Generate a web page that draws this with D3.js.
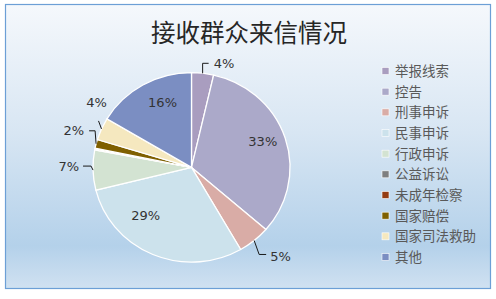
<!DOCTYPE html>
<html>
<head>
<meta charset="utf-8">
<script src="https://cdn.jsdelivr.net/npm/d3@7"></script>
<style>
  body { margin: 0; background: #fff; }
  svg text { font-family: "DejaVu Sans", sans-serif; }
  .title { font-family: "Noto Sans CJK SC", sans-serif; font-size: 24.5px; fill: #262626; }
  .legend text { font-family: "Noto Sans CJK SC", sans-serif; font-size: 13.5px; fill: #595959; }
  .pct { font-size: 13px; fill: #333; }
</style>
</head>
<body>
<div id="chart"></div>
<script>
// 接收群众来信情况 (share of letters, %)
var categories = ['举报线索', '控告', '刑事申诉', '民事申诉', '行政申诉', '公益诉讼', '未成年检察', '国家赔偿', '国家司法救助', '其他'];
var values = [3.6, 32.7, 5.3, 29.4, 6.8, 0.1, 0.2, 1.5, 3.8, 16.4];
var labels = ['4%', '33%', '5%', '29%', '7%', '', '', '2%', '4%', '16%'];
var colors = ['#a99dbf', '#aba9c9', '#d9aca6', '#cce2ec', '#d3e3d2', '#7f7f7f', '#943c12', '#7f6000', '#f5e8bf', '#7b8ec2'];

// where each label sits: inside (radius factor + nudge) or outside with a leader (elbow/end offsets from the edge point)
var labelLayout = [
    { out: true, elbow: [0, -10], end: [6, -10], text: [11, -10], anchor: 'start' },
    { out: false, k: 0.74, shift: [2, -4] },
    { out: true, elbow: [5, 14], end: [12, 14], text: [16, 16], anchor: 'start' },
    { out: false, k: 0.72, shift: [-18, -15] },
    { out: true, elbow: [-2, -4], end: [-10, -4], text: [-14, -4], anchor: 'end' },
    null, null,
    { out: true, elbow: [-1, -13], end: [-7, -13], text: [-12, -13], anchor: 'end' },
    { out: true, elbow: [-3, -8], end: [-3, -8], text: [-5, -26], anchor: 'middle' },
    { out: false, k: 0.76, shift: [8, -2] }
];

var W = 496, H = 299;
var svg = d3.select('#chart').append('svg').attr('width', W).attr('height', H);

var defs = svg.append('defs');
var grad = defs.append('linearGradient').attr('id', 'bg').attr('x1', 0).attr('y1', 0).attr('x2', 0).attr('y2', 1);
grad.append('stop').attr('offset', '0%').attr('stop-color', '#f5f8fc');
grad.append('stop').attr('offset', '45%').attr('stop-color', '#d8e6f3');
grad.append('stop').attr('offset', '85%').attr('stop-color', '#b4d1ea');
grad.append('stop').attr('offset', '100%').attr('stop-color', '#d0e1f1');

svg.append('rect')
    .attr('x', 5.5).attr('y', 4.5)
    .attr('width', 485).attr('height', 284)
    .attr('fill', 'url(#bg)')
    .attr('stroke', '#6c9fd6')
    .attr('stroke-width', 1.2);

svg.append('text')
    .attr('class', 'title')
    .attr('x', 249)
    .attr('y', 42)
    .attr('text-anchor', 'middle')
    .text('接收群众来信情况');

var cx = 191.5, cy = 167.4, rx = 98.5, ry = 94.7;

var pie = d3.pie().sort(null).value((d) => d);
var arcs = pie(values);
var arc = d3.arc().innerRadius(0).outerRadius(rx);

var pieG = svg.append('g')
    .attr('transform', `translate(${cx}, ${cy}) scale(1, ${ry / rx})`);

pieG.selectAll('path')
    .data(arcs)
    .enter()
    .append('path')
    .attr('d', arc)
    .attr('fill', (d, i) => colors[i])
    .attr('stroke', '#fff')
    .attr('stroke-width', 1.3)
    .attr('vector-effect', 'non-scaling-stroke');

// point on the (slightly squashed) pie for a given angle and radius factor
function polar(a, k) {
    return [cx + Math.sin(a) * rx * k, cy - Math.cos(a) * ry * k];
}

var labelG = svg.append('g');
arcs.forEach(function (d, i) {
    var lay = labelLayout[i];
    if (!lay || !labels[i]) return;
    var mid = (d.startAngle + d.endAngle) / 2;
    if (!lay.out) {
        var p = polar(mid, lay.k);
        labelG.append('text')
            .attr('class', 'pct')
            .attr('x', p[0] + lay.shift[0]).attr('y', p[1] + lay.shift[1])
            .attr('dy', '0.35em')
            .attr('text-anchor', 'middle')
            .text(labels[i]);
    } else {
        var e = polar(mid, 1);
        var pts = [e, [e[0] + lay.elbow[0], e[1] + lay.elbow[1]], [e[0] + lay.end[0], e[1] + lay.end[1]]];
        labelG.append('path')
            .attr('d', d3.line()(pts))
            .attr('fill', 'none')
            .attr('stroke', '#1a1a1a')
            .attr('stroke-width', 1);
        labelG.append('text')
            .attr('class', 'pct')
            .attr('x', e[0] + lay.text[0]).attr('y', e[1] + lay.text[1])
            .attr('dy', '0.35em')
            .attr('text-anchor', lay.anchor)
            .text(labels[i]);
    }
});

var legend = svg.append('g').attr('class', 'legend');
var rowY = d3.scalePoint().domain(categories).range([71, 257]);

var rows = legend.selectAll('g')
    .data(categories)
    .enter()
    .append('g')
    .attr('transform', (c) => `translate(382, ${rowY(c)})`);

rows.append('rect')
    .attr('x', 0).attr('y', -3.5)
    .attr('width', 7).attr('height', 7)
    .attr('fill', (c, i) => colors[i])
    .attr('stroke', '#fff')
    .attr('stroke-width', 0.6);

rows.append('text')
    .attr('x', 13)
    .attr('y', 0)
    .attr('dy', '0.36em')
    .text((c) => c);
</script>
</body>
</html>
